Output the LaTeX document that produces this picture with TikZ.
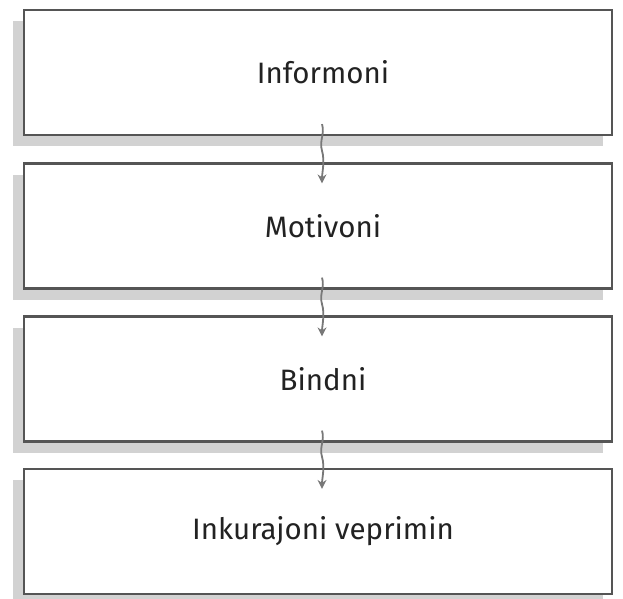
\documentclass[tikz,border=0pt]{standalone}
\usepackage{fontspec}
\setmainfont{Fira Sans}
\usetikzlibrary{arrows.meta,calc}
\definecolor{boxline}{HTML}{555555}
\definecolor{shade}{HTML}{D2D2D2}
\definecolor{arrowc}{HTML}{787878}
\definecolor{txt}{HTML}{222222}
\tikzset{
  x=1pt,y=-1pt,
  stepbox/.style={draw=boxline,line width=2.2pt,fill=white,minimum width=588pt,minimum height=125pt,inner sep=0pt},
  steptext/.style={inner sep=0pt,font=\fontsize{29.5}{34}\selectfont,text=txt},
  shadowbox/.style={fill=shade,minimum width=590pt,minimum height=125pt,inner sep=0pt},
  wavy/.style={draw=arrowc,line width=1.8pt,-{Stealth[length=9pt,width=9pt]}}
}
\begin{document}
\begin{tikzpicture}
\useasboundingbox (0,0) rectangle (623,598);
\foreach \n/\y in {s1/72.5,s2/226,s3/379,s4/531}{
  \node[shadowbox] (\n) at (308,\y+11) {};
}
\node[stepbox] (b1) at (318,72.5) {};
\node[stepbox] (b2) at (318,226) {};
\node[stepbox] (b3) at (318,379) {};
\node[stepbox] (b4) at (318,531.5) {};
\node[steptext] (t1) at ([xshift=5pt]b1.center) {Informoni};
\node[steptext] (t2) at ([xshift=5pt]b2.center) {Motivoni};
\node[steptext] (t3) at ([xshift=5pt]b3.center) {Bindni};
\node[steptext] (t4) at ([xshift=5pt]b4.center) {Inkurajoni veprimin};
\foreach \a/\b in {b1/b2,b2/b3,b3/b4}{
  \coordinate (st) at ([xshift=4pt,yshift=12pt]\a.south);
  \coordinate (en) at ([xshift=4pt,yshift=-21pt]\b.north);
  \draw[wavy] (st) .. controls ++(3,10) and ++(-3,-10) .. ($(st)!0.45!(en)$) .. controls ++(3,10) and ++(0,-10) .. (en);
}
\end{tikzpicture}
\end{document}
